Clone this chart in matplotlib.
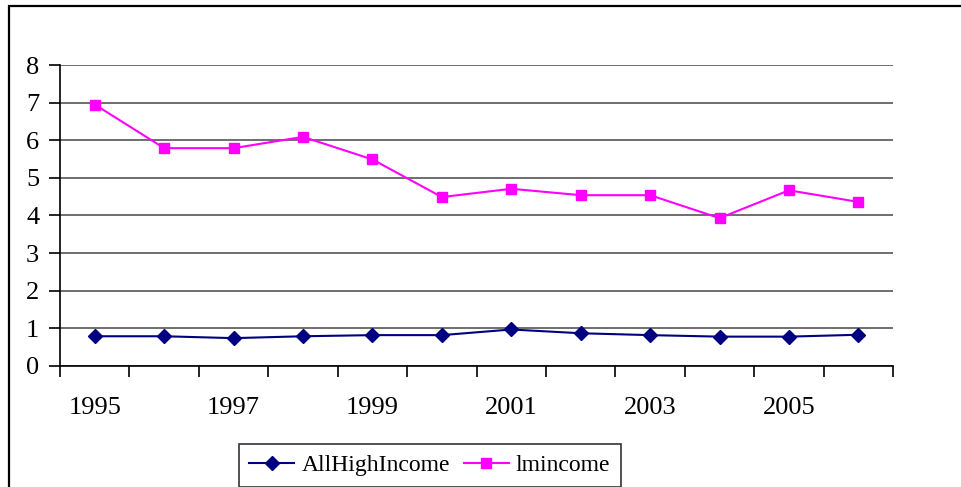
import matplotlib.pyplot as plt
from matplotlib.patches import Rectangle
import numpy as np

plt.rcParams["font.family"] = ["Liberation Serif", "DejaVu Serif"]

years = [1995, 1996, 1997, 1998, 1999, 2000, 2001, 2002, 2003, 2004, 2005, 2006]
all_high_income = [0.79, 0.79, 0.74, 0.79, 0.82, 0.82, 0.97, 0.87, 0.82, 0.78, 0.78, 0.83]
lmincome = [6.95, 5.79, 5.79, 6.09, 5.49, 4.49, 4.71, 4.54, 4.54, 3.93, 4.67, 4.36]
year_labels = ["1995", "", "1997", "", "1999", "", "2001", "", "2003", "", "2005", ""]

fig = plt.figure(figsize=(9.62, 4.87), dpi=100)
ax = fig.add_axes([0.0624, 0.2485, 0.866, 0.618])

x = np.arange(len(years))
ax.plot(x, all_high_income, color="#000080", marker="D", markersize=7, lw=1.5,
        label="AllHighIncome", zorder=3)
ax.plot(x, lmincome, color="#FF00FF", marker="s", markersize=7, lw=1.5,
        label="lmincome", zorder=3)

ax.set_xlim(-0.5, len(years) - 0.5)
ax.set_ylim(0, 8)
ax.set_yticks(range(0, 9))
ax.yaxis.grid(True, color="#555555", lw=1.2)
ax.set_axisbelow(True)

# category labels sit at the centres, tick marks at the boundaries
ax.set_xticks(x)
ax.set_xticklabels(year_labels)
ax.set_xticks(np.arange(-0.5, len(years)), minor=True)
ax.tick_params(axis="x", which="major", length=0, pad=22, labelsize=19)
ax.tick_params(axis="x", which="minor", length=8, width=1.2, direction="out")
ax.tick_params(axis="y", length=8, width=1.2, direction="out", pad=7, labelsize=19)

for side in ("top", "right"):
    ax.spines[side].set_visible(False)
for side in ("left", "bottom"):
    ax.spines[side].set_linewidth(1.2)

leg = ax.legend(loc="center", bbox_to_anchor=(0.444, -0.33), ncol=2, fontsize=17,
                frameon=True, fancybox=False, edgecolor="black", handlelength=1.9,
                handletextpad=0.3, columnspacing=0.6, borderpad=0.45)
leg.get_frame().set_linewidth(1.2)

# chart area border, running off the right and bottom edges
fig.patches.append(Rectangle((9 / 962, -0.1), 1.1, 0.1 + (487 - 6) / 487,
                             transform=fig.transFigure, fill=False,
                             edgecolor="black", lw=1.6))

fig.savefig("out.png", dpi=100)
